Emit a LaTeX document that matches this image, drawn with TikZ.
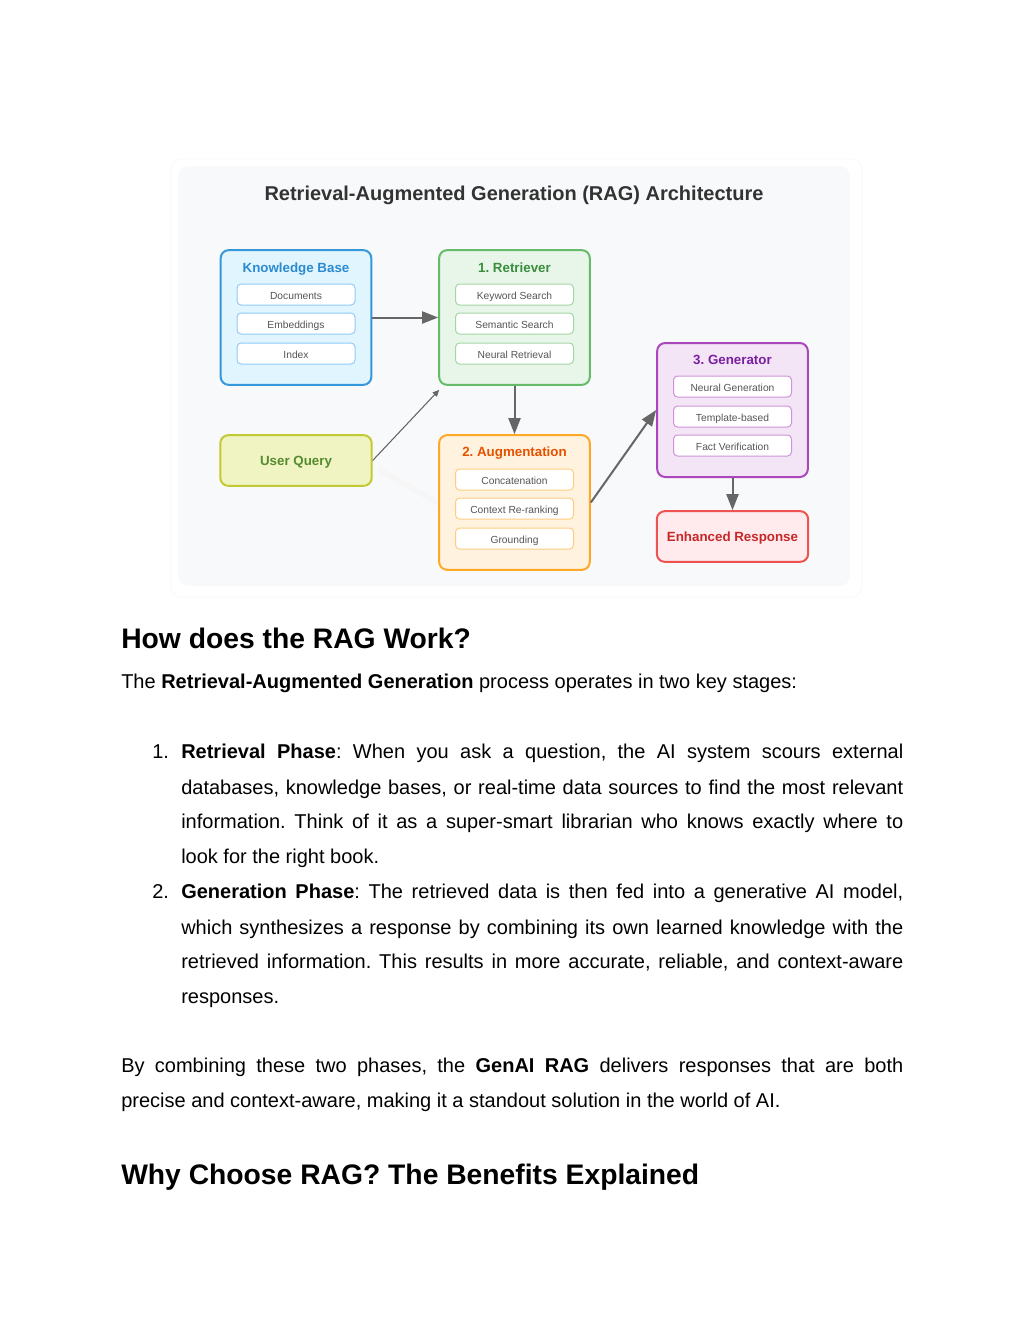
\documentclass[tikz,border=0pt]{standalone}
\usepackage{fontspec}
\setmainfont{Liberation Sans}
\usetikzlibrary{arrows.meta,calc}
\definecolor{panel}{HTML}{F8F9FA}
\definecolor{kbline}{HTML}{3498DB}
\definecolor{kbfill}{HTML}{E1F5FE}
\definecolor{kbtext}{HTML}{2B8AD0}
\definecolor{kbsub}{HTML}{90CAF9}
\definecolor{reline}{HTML}{66BB6A}
\definecolor{refill}{HTML}{E8F5E9}
\definecolor{retext}{HTML}{388E3C}
\definecolor{resub}{HTML}{A5D6A7}
\definecolor{uqline}{HTML}{C0CA33}
\definecolor{uqfill}{HTML}{F0F4C3}
\definecolor{uqtext}{HTML}{558B2F}
\definecolor{auline}{HTML}{FFA726}
\definecolor{aufill}{HTML}{FFF3E0}
\definecolor{autext}{HTML}{E65100}
\definecolor{ausub}{HTML}{FFCC80}
\definecolor{geline}{HTML}{AB47BC}
\definecolor{gefill}{HTML}{F3E5F5}
\definecolor{getext}{HTML}{7B1FA2}
\definecolor{gesub}{HTML}{CE93D8}
\definecolor{erline}{HTML}{EF5350}
\definecolor{erfill}{HTML}{FFEBEE}
\definecolor{ertext}{HTML}{C62828}
\definecolor{subtext}{HTML}{555555}
\definecolor{arrowc}{HTML}{666666}
\definecolor{titlec}{HTML}{333333}
\newcommand{\bodysize}{\fontsize{15pt}{18pt}\selectfont}
\newcommand{\headsize}{\fontsize{21.2pt}{25pt}\selectfont\bfseries}
\frenchspacing
\begin{document}
\begin{tikzpicture}[x=0.75pt,y=-0.75pt,
  mainbox/.style={draw, line width=1.5pt, rounded corners=6pt, minimum width=113pt, minimum height=101pt, inner sep=0pt},
  smallbox/.style={draw, line width=1.5pt, rounded corners=6pt, minimum width=113.5pt, minimum height=38pt, inner sep=0pt, text height=0.72em, text depth=0pt, font=\fontsize{10pt}{12pt}\selectfont\bfseries},
  boxtitle/.style={anchor=base, inner sep=0pt, font=\fontsize{10pt}{12pt}\selectfont\bfseries},
  subbox/.style={draw, fill=white, line width=0.75pt, rounded corners=3pt, minimum width=88.5pt, minimum height=15.75pt, inner sep=0pt, text height=0.72em, text depth=0pt, text=subtext, font=\fontsize{7.7pt}{9pt}\selectfont},
  arr/.style={draw=arrowc, line width=1.5pt, -{Triangle[length=12pt,width=9pt]}},
  thinarr/.style={draw=arrowc, line width=0.8pt, -{Triangle[length=5pt,width=4.5pt]}},
  textline/.style={anchor=base west, inner sep=0pt, font=\bodysize},
  headline/.style={anchor=base west, inner sep=0pt, font=\headsize}
]
\useasboundingbox[fill=white] (0,0) rectangle (1024,1325);
% panel
\draw[draw=gray!6, line width=0.5pt, rounded corners=8pt] (171,159) rectangle (862,597);
\fill[panel, rounded corners=8pt] (178,166) rectangle (850,586);
\node[anchor=base, inner sep=0pt, text=titlec, font=\fontsize{15pt}{18pt}\selectfont\bfseries] (title) at (514,200) {Retrieval-Augmented Generation (RAG) Architecture};

% faint shadow trace
\draw[gray!7, line width=4pt, line cap=round] (380,470) -- (436,502);

% Knowledge base
\node[mainbox, draw=kbline, fill=kbfill] (kb) at (296,317.5) {};
\node[boxtitle, text=kbtext] (kbt) at (296,272) {Knowledge Base};
\node[subbox, draw=kbsub] (kb1) at (296,294.5) {Documents};
\node[subbox, draw=kbsub] (kb2) at (296,323.5) {Embeddings};
\node[subbox, draw=kbsub] (kb3) at (296,353.5) {Index};

% Retriever
\node[mainbox, draw=reline, fill=refill] (ret) at (514.5,317.5) {};
\node[boxtitle, text=retext] (rett) at (514.5,272) {1. Retriever};
\node[subbox, draw=resub] (re1) at (514.5,294.5) {Keyword Search};
\node[subbox, draw=resub] (re2) at (514.5,323.5) {Semantic Search};
\node[subbox, draw=resub] (re3) at (514.5,353.5) {Neural Retrieval};

% User query
\node[smallbox, draw=uqline, fill=uqfill, text=uqtext] (uq) at (296,460.5) {User Query};

% Augmentation
\node[mainbox, draw=auline, fill=aufill] (aug) at (514.5,502.5) {};
\node[boxtitle, text=autext] (augt) at (514.5,456) {2. Augmentation};
\node[subbox, draw=ausub] (au1) at (514.5,479.5) {Concatenation};
\node[subbox, draw=ausub] (au2) at (514.5,508.5) {Context Re-ranking};
\node[subbox, draw=ausub] (au3) at (514.5,538.5) {Grounding};

% Generator
\node[mainbox, draw=geline, fill=gefill, minimum height=100.5pt] (gen) at (732.5,410) {};
\node[boxtitle, text=getext] (gent) at (732.5,364) {3. Generator};
\node[subbox, draw=gesub] (ge1) at (732.5,386.5) {Neural Generation};
\node[subbox, draw=gesub] (ge2) at (732.5,416.5) {Template-based};
\node[subbox, draw=gesub] (ge3) at (732.5,445.5) {Fact Verification};

% Enhanced response
\node[smallbox, draw=erline, fill=erfill, text=ertext] (er) at (732.5,536.5) {Enhanced Response};

% connectors
\coordinate (uqend) at ($(ret.south west)+(1,4)$);
\draw[arr] (kb.east) -- (ret.west);
\draw[arr] (ret.south) -- (aug.north);
\draw[arr] (aug.east) -- (gen.west);
\draw[arr] (gen.south) -- (er.north);
\draw[thinarr] (uq.east) -- (uqend);

% text
\node[headline] (h1) at (121,648) {How does the RAG Work?};
\node[textline] (intro) at (121,688) {The \textbf{Retrieval-Augmented Generation} process operates in two key stages:};

\node[textline] (n1) at (152,758) {1.};
\node[textline] (l1) at (181,758) {\makebox[541.5pt][s]{\textbf{Retrieval Phase}: When you ask a question, the AI system scours external}};
\node[textline] (l2) at (181,794) {\makebox[541.5pt][s]{databases, knowledge bases, or real-time data sources to find the most relevant}};
\node[textline] (l3) at (181,828) {\makebox[541.5pt][s]{information. Think of it as a super-smart librarian who knows exactly where to}};
\node[textline] (l4) at (181,863) {look for the right book.};
\node[textline] (n2) at (152,898) {2.};
\node[textline] (l5) at (181,898) {\makebox[541.5pt][s]{\textbf{Generation Phase}: The retrieved data is then fed into a generative AI model,}};
\node[textline] (l6) at (181,934) {\makebox[541.5pt][s]{which synthesizes a response by combining its own learned knowledge with the}};
\node[textline] (l7) at (181,968) {\makebox[541.5pt][s]{retrieved information. This results in more accurate, reliable, and context-aware}};
\node[textline] (l8) at (181,1003) {responses.};

\node[textline] (p1) at (121,1072) {\makebox[586.5pt][s]{By combining these two phases, the \textbf{GenAI RAG} delivers responses that are both}};
\node[textline] (p2) at (121,1107) {precise and context-aware, making it a standout solution in the world of AI.};

\node[headline] (h2) at (121,1184) {Why Choose RAG? The Benefits Explained};
\end{tikzpicture}
\end{document}
